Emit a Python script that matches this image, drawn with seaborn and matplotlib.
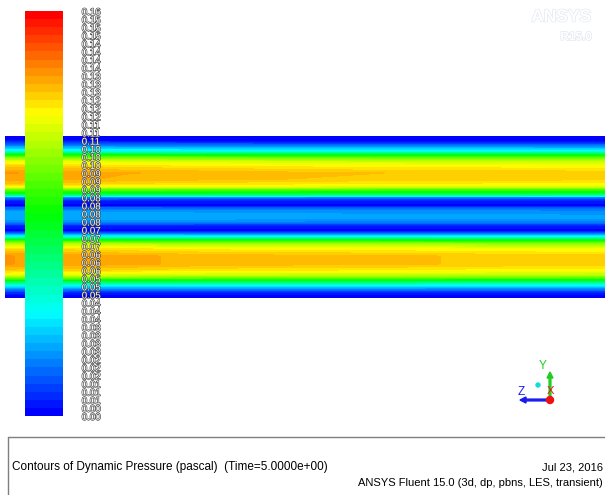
import numpy as np
import matplotlib
matplotlib.use("Agg")
import matplotlib.pyplot as plt
import matplotlib.colors as mcolors
import matplotlib.patheffects as pe
from matplotlib.patches import FancyArrow, Circle
import seaborn as sns

# Cross-stream stations (0 = lower wall, 1 = upper wall)
y_pos = [0.000, 0.019, 0.037, 0.056, 0.080, 0.105, 0.123, 0.142, 0.173, 0.210,
         0.259, 0.302, 0.333, 0.352, 0.370, 0.395, 0.414, 0.444, 0.469, 0.494,
         0.531, 0.556, 0.568, 0.599, 0.623, 0.630, 0.648, 0.673, 0.685, 0.704,
         0.735, 0.772, 0.809, 0.840, 0.864, 0.883, 0.901, 0.926, 0.951, 0.969,
         1.000]
# Dynamic pressure across the section in the developed region (Pa)
dp_profile = [0.000, 0.002, 0.008, 0.020, 0.040, 0.065, 0.088, 0.105, 0.117, 0.124,
              0.124, 0.115, 0.100, 0.080, 0.050, 0.020, 0.002, 0.004, 0.020, 0.026,
              0.024, 0.015, 0.002, 0.004, 0.020, 0.045, 0.070, 0.090, 0.108, 0.117,
              0.123, 0.124, 0.117, 0.108, 0.092, 0.072, 0.045, 0.028, 0.012, 0.003,
              0.000]
# Streamwise stations (0 = inlet side, 1 = outlet side)
x_pos = [0.00, 0.08, 0.20, 0.35, 0.50, 0.65, 0.80, 1.00]
# Core intensity relative to the developed profile, per channel
gain_upper = [1.065, 1.060, 1.040, 1.030, 1.020, 1.012, 1.010, 1.004]
gain_lower = [1.065, 1.058, 1.045, 1.028, 1.022, 1.018, 1.008, 1.000]

vmax = 0.157
n_bands = 50

title_text = "Contours of Dynamic Pressure (pascal)  (Time=5.0000e+00)"
date_text = "Jul 23, 2016"
solver_text = "ANSYS Fluent 15.0 (3d, dp, pbns, LES, transient)"

sns.set_theme(style="white")
plt.rcParams["font.family"] = ["Liberation Sans", "DejaVu Sans"]

W, H = 605, 495
fig = plt.figure(figsize=(W / 100, H / 100), dpi=100)
fig.patch.set_facecolor("white")

def px_rect(x0, y0, x1, y1):
    return [x0 / W, 1 - y1 / H, (x1 - x0) / W, (y1 - y0) / H]

# blue -> cyan -> green -> yellow -> red banded map
hues = np.linspace(240, 0, n_bands) / 360.0
band_colors = mcolors.hsv_to_rgb(np.column_stack([hues, np.ones(n_bands), np.ones(n_bands)]))
cmap = mcolors.ListedColormap(band_colors)
levels = np.linspace(0, vmax, n_bands + 1)

# decoration layer in pixel coordinates
deco = fig.add_axes([0, 0, 1, 1])
deco.set_xlim(0, W)
deco.set_ylim(H, 0)
deco.axis("off")

# contour field
ax = fig.add_axes(px_rect(5, 136, 605, 298))
Y = np.array(y_pos)
P = np.array(dp_profile)
G = np.where(Y[:, None] > 0.5, np.array(gain_upper)[None, :], np.array(gain_lower)[None, :])
Z = P[:, None] * G
cs = ax.contourf(x_pos, y_pos, Z, levels=levels, cmap=cmap, antialiased=False)
ax.set_xlim(0, 1)
ax.set_ylim(0, 1)
ax.axis("off")

# color scale
cax = fig.add_axes(px_rect(25, 11, 63, 416))
mids = 0.5 * (levels[:-1] + levels[1:])
sns.heatmap(mids[::-1].reshape(-1, 1), ax=cax, cmap=cmap, vmin=0, vmax=vmax,
            cbar=False, xticklabels=False, yticklabels=False)
cax.set_yticks(np.arange(n_bands + 1))
cax.set_yticklabels([f"{v:.2f}" for v in levels[::-1]])
cax.yaxis.tick_right()
cax.tick_params(axis="y", length=0, pad=13.5, labelsize=7)
for lab in cax.get_yticklabels():
    lab.set_color("white")
    lab.set_path_effects([pe.withStroke(linewidth=0.8, foreground="#333333")])
for s in cax.spines.values():
    s.set_visible(False)

# logo
logo_fx = [pe.withStroke(linewidth=1.0, foreground="#e3e9f2")]
deco.text(561, 17, "ANSYS", ha="center", va="center", fontsize=12.5, fontweight="bold",
          color="white", path_effects=logo_fx)
deco.text(592, 37, "R15.0", ha="right", va="center", fontsize=8.5, fontweight="bold",
          color="white", path_effects=logo_fx)

# coordinate triad
deco.add_patch(FancyArrow(550, 400, 0, -28, width=1.8, head_width=6, head_length=6,
                          length_includes_head=True, color="#22cc22", zorder=3))
deco.add_patch(FancyArrow(550, 400, -30, 0, width=1.8, head_width=6, head_length=6,
                          length_includes_head=True, color="#1a1aee", zorder=3))
deco.add_patch(Circle((550, 400), 3.5, color="#ee1111", zorder=4))
deco.add_patch(Circle((538, 385), 2.0, color="#11dddd", zorder=4))
deco.text(543, 366, "Y", color="#22cc22", fontsize=8.5, ha="center", va="center")
deco.text(521, 392, "Z", color="#1a1aee", fontsize=8.5, ha="center", va="center")
deco.text(550, 391, "X", color="#ee1111", fontsize=8, ha="center", va="center")

# info panel
deco.plot([8, W], [437, 437], color="#7f7f7f", lw=1.0)
deco.plot([8, 8], [437, H], color="#7f7f7f", lw=1.0)
deco.text(12, 467, title_text, fontsize=8.5, ha="left", va="center", color="black")
deco.text(603, 467, date_text, fontsize=8, ha="right", va="center", color="black")
deco.text(603, 483, solver_text, fontsize=8, ha="right", va="center", color="black")

fig.savefig("out.png", dpi=100, facecolor="white")
